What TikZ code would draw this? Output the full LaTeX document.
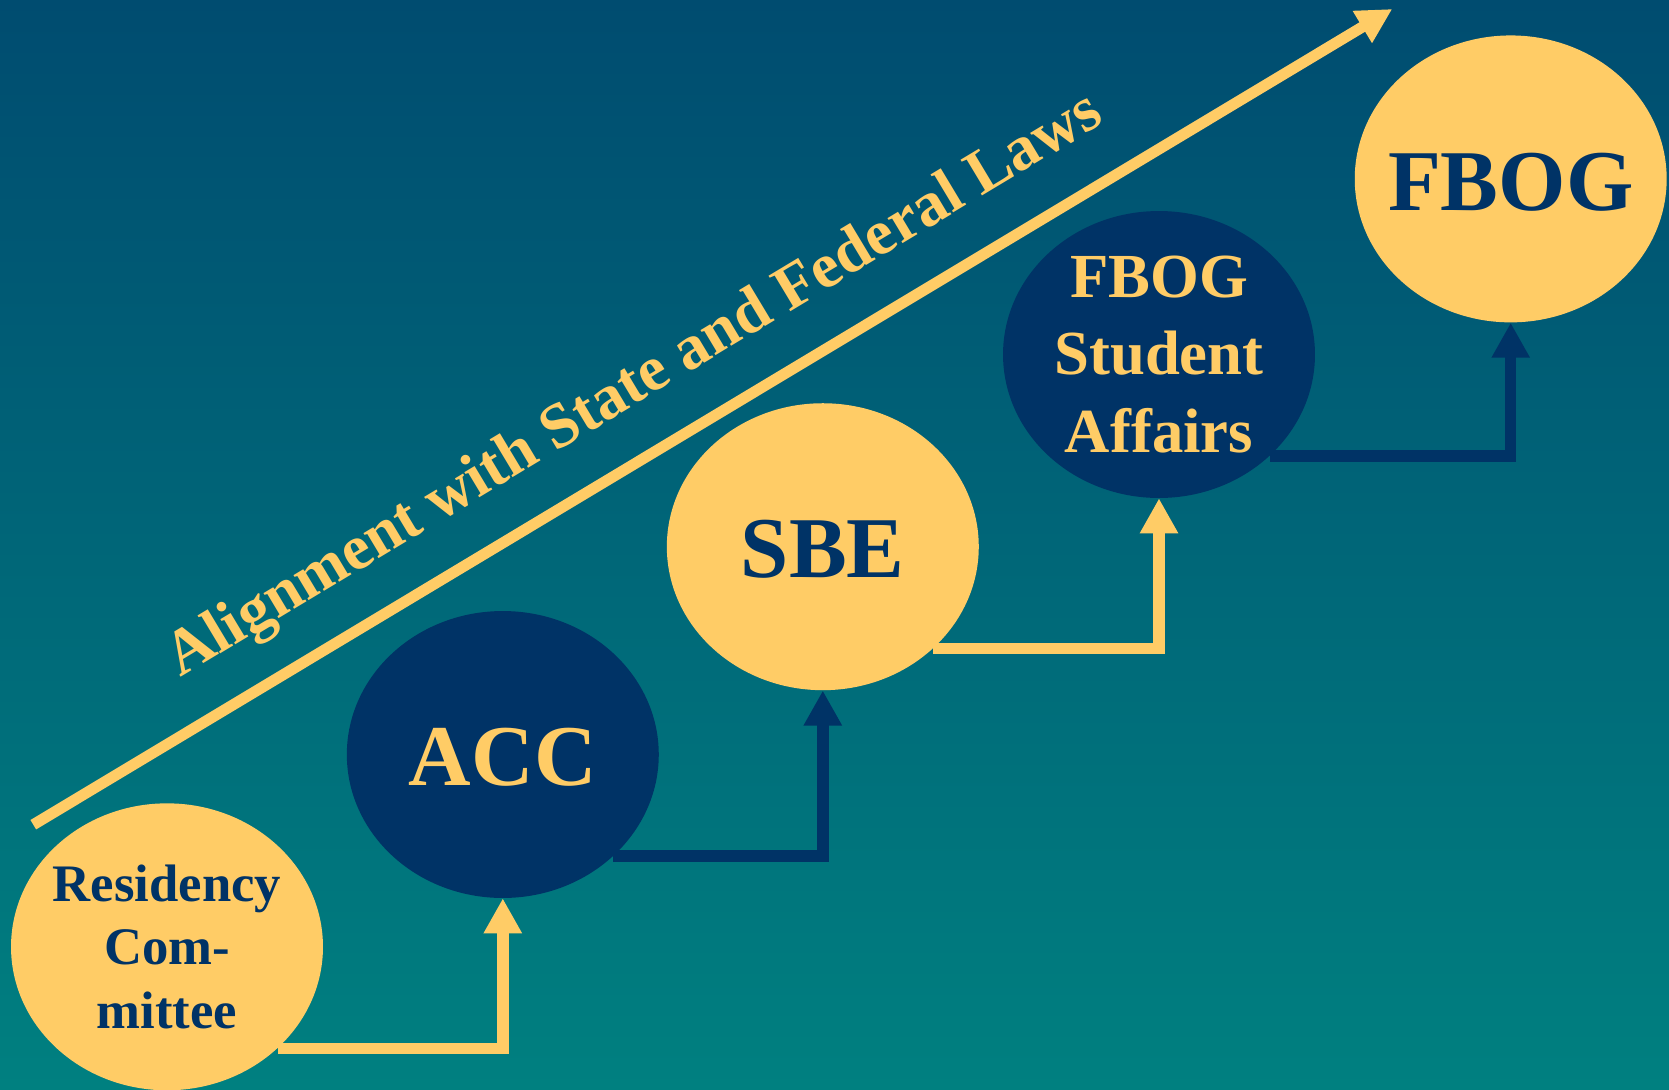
\documentclass[tikz,border=0pt]{standalone}
\usepackage{fontspec}
\setmainfont{Liberation Serif}
\usetikzlibrary{arrows.meta,shapes.geometric}
\definecolor{gold}{RGB}{255,204,102}
\definecolor{navy}{RGB}{0,51,102}
\definecolor{bgtop}{RGB}{0,76,112}
\definecolor{bgbot}{RGB}{0,128,128}
\begin{document}
\begin{tikzpicture}[x=0.02cm,y=-0.02cm,
  ell/.style={ellipse, minimum width=6.24cm, minimum height=5.74cm, inner sep=0pt, draw=none},
  goldell/.style={ell, fill=gold},
  navyell/.style={ell, fill=navy},
  bigtxt/.style={font=\fontsize{49.3}{59}\selectfont\bfseries, yshift=-0.06cm},
  midtxt/.style={font=\fontsize{35.7}{43.9}\selectfont\bfseries, align=center},
  diagtxt/.style={font=\fontsize{36.2}{43.9}\selectfont\bfseries},
  smalltxt/.style={font=\fontsize{30}{36.3}\selectfont\bfseries, align=center},
  conn/.style={line width=0.23cm, -{Triangle[length=0.7cm,width=0.72cm]}},
]
\useasboundingbox (0,0) rectangle (1669,1089);
\shade[top color=bgtop, bottom color=bgbot] (0,0) rectangle (1669,1089);

% ellipses
\node[goldell] (res) at (167,946.8) {};
\node[navyell] (acc) at (502.8,754.5) {};
\node[goldell] (sbe) at (822.8,546.7) {};
\node[navyell] (sa) at (1159,354.5) {};
\node[goldell] (fbog) at (1510.7,178.9) {};

% texts
\node[smalltxt, text=navy] (restxt) at (res) {Residency\\Com-\\mittee};
\node[bigtxt, text=gold] (acctxt) at (acc) {ACC};
\node[bigtxt, text=navy] (sbetxt) at (sbe) {SBE};
\node[midtxt, text=gold] (satxt) at (sa) {FBOG\\Student\\Affairs};
\node[bigtxt, text=navy] (fbogtxt) at (fbog) {FBOG};

% connectors
\draw[conn, gold] (res.south east) -| (acc.south);
\draw[conn, navy] (acc.south east) -| (sbe.south);
\draw[conn, gold] (sbe.south east) -| (sa.south);
\draw[conn, navy] (sa.south east) -| (fbog.south);

% diagonal arrow
\coordinate (d1) at (33.3,824.7);
\coordinate (d2) at (1392.3,9);
\draw[gold, line width=0.22cm, -{Triangle[length=0.7cm,width=0.7cm]}] (d1) -- (d2);
\node[diagtxt, text=gold, rotate=31, anchor=base] (lab) at (643,400) {Alignment with State and Federal Laws};
\end{tikzpicture}
\end{document}
